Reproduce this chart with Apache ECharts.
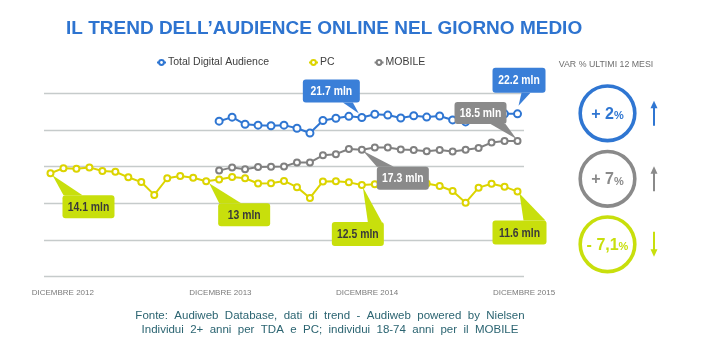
<!DOCTYPE html>
<html>
<head>
<meta charset="utf-8">
<script src="https://cdn.jsdelivr.net/npm/echarts@6/dist/echarts.min.js"></script>
<style>
html,body{margin:0;padding:0;background:#fff;}
#c{width:709px;height:358px;}
</style>
</head>
<body>
<div id="c"></div>
<script>
// ---------------- DATA ----------------
const titleText = 'IL TREND DELL\u2019AUDIENCE ONLINE NEL GIORNO MEDIO';
const seriesNames = ['Total Digital Audience', 'PC', 'MOBILE'];
const months = [
  'Dic 2012','Gen 2013','Feb 2013','Mar 2013','Apr 2013','Mag 2013','Giu 2013','Lug 2013','Ago 2013','Set 2013','Ott 2013','Nov 2013',
  'Dic 2013','Gen 2014','Feb 2014','Mar 2014','Apr 2014','Mag 2014','Giu 2014','Lug 2014','Ago 2014','Set 2014','Ott 2014','Nov 2014',
  'Dic 2014','Gen 2015','Feb 2015','Mar 2015','Apr 2015','Mag 2015','Giu 2015','Lug 2015','Ago 2015','Set 2015','Ott 2015','Nov 2015',
  'Dic 2015'
];
// PC: Dec 2012 .. Dec 2015 (millions)
const pcValues = [
  14.1, 14.8, 14.7, 14.9, 14.4, 14.3, 13.55, 12.9, 11.15, 13.42, 13.72, 13.5,
  13.0, 13.25, 13.58, 13.42, 12.71, 12.75, 13.05, 12.21, 10.73, 12.98, 13.0, 12.86,
  12.5, 12.6, 12.8, 12.7, 12.6, 12.7, 12.37, 11.69, 10.09, 12.14, 12.68, 12.27,
  11.6
];
// Total Digital Audience: Jan 2014 .. Dec 2015
const tdaValues = [
  21.2, 21.75, 20.78, 20.66, 20.57, 20.66, 20.23, 19.58, 21.3, 21.6, 21.86, 21.7,
  22.14, 22.03, 21.64, 21.94, 21.76, 21.91, 21.37, 21.1, 21.6, 21.9, 22.2, 22.2
];
// Mobile: Jan 2014 .. Dec 2015
const mobileValues = [
  14.46, 14.9, 14.64, 14.96, 15.0, 15.03, 15.58, 15.58, 16.55, 16.7, 17.4, 17.3,
  17.6, 17.6, 17.35, 17.28, 17.1, 17.28, 17.07, 17.32, 17.55, 18.28, 18.5, 18.5
];
const tdaStartIndex = 13;
const mobileStartIndex = 13;
// x-axis tick labels and the month positions where they sit
const tickLabels = ['DICEMBRE 2012', 'DICEMBRE 2013', 'DICEMBRE 2014', 'DICEMBRE 2015'];
const tickAt = [0.95, 13.1, 24.4, 36.5];
// Callouts: series, month index
const calloutSeries = ['tda', 'tda', 'mobile', 'mobile', 'pc', 'pc', 'pc', 'pc'];
const calloutIndex  = [24, 36, 36, 24, 0, 12, 24, 36];
// Right panel
const varTitle = 'VAR % ULTIMI 12 MESI';
const varValues = ['+ 2', '+ 7', '- 7,1'];
const varDirection = ['up', 'up', 'down'];
const footerLines = [
  'Fonte:  Audiweb  Database,  dati  di  trend  -  Audiweb  powered  by  Nielsen',
  'Individui  2+  anni  per  TDA  e  PC;  individui  18-74  anni  per  il  MOBILE'
];

// ---------------- STYLE ----------------
const BLUE = '#2f76d2', GRAY = '#808080', YEL = '#dcd400', LIME = '#c8df0c';
const BOX_BLUE = '#3a7fd8', BOX_GRAY = '#8a8a8a';
const SANS = "'Liberation Sans',Arial,sans-serif";

function pad(start, vals) {
  const out = [];
  for (let i = 0; i < months.length; i++) {
    const j = i - start;
    out.push([i, (j >= 0 && j < vals.length) ? vals[j] : null]);
  }
  return out;
}
const pcData = pcValues.map((v, i) => [i, v]);
const tdaData = pad(tdaStartIndex, tdaValues);
const mobData = pad(mobileStartIndex, mobileValues);

const chart = echarts.init(document.getElementById('c'), null, {renderer: 'canvas'});

function lineSeries(name, data, color, size, bw) {
  return {
    name, type: 'line', data, connectNulls: false,
    symbol: 'emptyCircle', symbolSize: size,
    lineStyle: {color, width: 2},
    itemStyle: {color, borderColor: color, borderWidth: bw},
    emphasis: {disabled: true}, z: 3
  };
}

chart.setOption({
  animation: false,
  backgroundColor: '#ffffff',
  title: {
    text: titleText, left: 66, top: 19, padding: 0,
    textStyle: {fontFamily: SANS, fontSize: 19, fontWeight: 'bold', color: '#2e74d0'}
  },
  legend: {
    data: seriesNames, left: 156, top: 57, padding: 0,
    itemWidth: 9, itemHeight: 6, itemGap: 39,
    textStyle: {fontFamily: SANS, fontSize: 10.5, color: '#404040', padding: [0, 0, 0, -3]}
  },
  grid: {left: 44, width: 480, top: 93.3, height: 183.4, containLabel: false},
  xAxis: {
    type: 'value', min: -0.5, max: 36.5,
    axisLine: {show: false}, axisTick: {show: false}, splitLine: {show: false},
    axisLabel: {
      customValues: tickAt, margin: 12, showMaxLabel: true,
      fontFamily: SANS, fontSize: 8, color: '#7a7a7a',
      formatter: (v) => { const k = tickAt.indexOf(v); return k >= 0 ? tickLabels[k] : ''; }
    }
  },
  yAxis: {
    type: 'value', min: 0, max: 25, interval: 5,
    axisLine: {show: false}, axisTick: {show: false}, axisLabel: {show: false},
    splitLine: {lineStyle: {color: '#c6cbcb', width: 1.3}}
  },
  series: [
    lineSeries(seriesNames[0], tdaData, BLUE, 7, 2),
    lineSeries(seriesNames[1], pcData, YEL, 6, 1.6),
    lineSeries(seriesNames[2], mobData, GRAY, 6, 1.6)
  ]
});

// --------------- annotations -----------------
const srcVals = {tda: tdaData, mobile: mobData, pc: pcData};
const srcColor = {tda: BOX_BLUE, mobile: BOX_GRAY, pc: LIME};
const srcText = {tda: '#ffffff', mobile: '#ffffff', pc: '#3a3a3a'};
// layout of each callout relative to its anchor point: box [dx,dy,w,h], tail base [x1,x2,y], apex [ax,ay]
const calloutLayout = [
  {box: [-59, -38, 57, 23], base: [-19, -9, -15], apex: [-3, -4]},
  {box: [-25, -46, 53, 25], base: [4, 13, -21], apex: [1, -8]},
  {box: [-63, -39, 52, 22], base: [-27, -12, -17], apex: [-1, -2]},
  {box: [15, 17, 52, 23], base: [15, 32, 17], apex: [1, 1]},
  {box: [12, 22, 52, 23], base: [13, 32, 22], apex: [2, 2]},
  {box: [12, 22, 52, 23], base: [13, 35, 22], apex: [3, 2]},
  {box: [-30, 37, 52, 24], base: [6, 20, 37], apex: [1, 2]},
  {box: [-25, 29, 54, 24], base: [6, 28, 29], apex: [2, 2]}
];
const g = [];
calloutSeries.forEach((s, k) => {
  const idx = calloutIndex[k];
  const val = srcVals[s][idx][1];
  const p = chart.convertToPixel({gridIndex: 0}, [idx, val]);
  const L = calloutLayout[k];
  const col = srcColor[s];
  g.push({type: 'polygon', z: 10, shape: {points: [[p[0] + L.base[0], p[1] + L.base[2]], [p[0] + L.base[1], p[1] + L.base[2]], [p[0] + L.apex[0], p[1] + L.apex[1]]]}, style: {fill: col}});
  g.push({type: 'rect', z: 10, shape: {x: p[0] + L.box[0], y: p[1] + L.box[1], width: L.box[2], height: L.box[3], r: 3}, style: {fill: col}});
  g.push({type: 'text', z: 11,
    x: p[0] + L.box[0] + L.box[2] / 2, y: p[1] + L.box[1] + L.box[3] / 2 + 0.5, scaleX: 0.8,
    style: {
      text: (Math.round(val * 10) / 10) + ' mln', x: 0, y: 0,
      align: 'center', verticalAlign: 'middle', fill: srcText[s], fontFamily: SANS, fontSize: 13, fontWeight: 'bold'
    }});
});

// right panel
const panelColors = [BLUE, '#8a8a8a', LIME];
const cx = 607.5, cy0 = 113.3, dy = 65.5, r = 27.3, ax = 654;
g.push({type: 'text', style: {text: varTitle, x: 606, y: 64.5, align: 'center', verticalAlign: 'middle', fill: '#6e6e6e', fontFamily: SANS, fontSize: 8.8}});
varValues.forEach((v, i) => {
  const cy = cy0 + dy * i, col = panelColors[i];
  g.push({type: 'circle', shape: {cx, cy, r}, style: {fill: '#fff', stroke: col, lineWidth: 3.6}});
  g.push({type: 'text', style: {
    text: '{a|' + v + '}{b|%}', x: cx, y: cy + 1, align: 'center', verticalAlign: 'middle',
    rich: {a: {fontFamily: SANS, fontSize: 16, fontWeight: 'bold', fill: col, color: col},
           b: {fontFamily: SANS, fontSize: 11, fontWeight: 'bold', fill: col, color: col, padding: [4, 0, 0, 0]}}
  }});
  const up = varDirection[i] === 'up';
  const y1 = cy - 12.5, y2 = cy + 12.5;
  const tip = up ? y1 : y2, tail = up ? y2 : y1, s = up ? 1 : -1;
  g.push({type: 'line', shape: {x1: ax, y1: tail, x2: ax, y2: tip + s * 6}, style: {stroke: col, lineWidth: 2}});
  g.push({type: 'polygon', shape: {points: [[ax - 3.5, tip + s * 7.5], [ax + 3.5, tip + s * 7.5], [ax, tip]]}, style: {fill: col}});
});
// footer
footerLines.forEach((t, i) => {
  g.push({type: 'text', style: {text: t, x: 330, y: 316 + i * 14, align: 'center', verticalAlign: 'middle', fill: '#2b6471', fontFamily: SANS, fontSize: 11.5}});
});
chart.setOption({graphic: g});
</script>
</body>
</html>
